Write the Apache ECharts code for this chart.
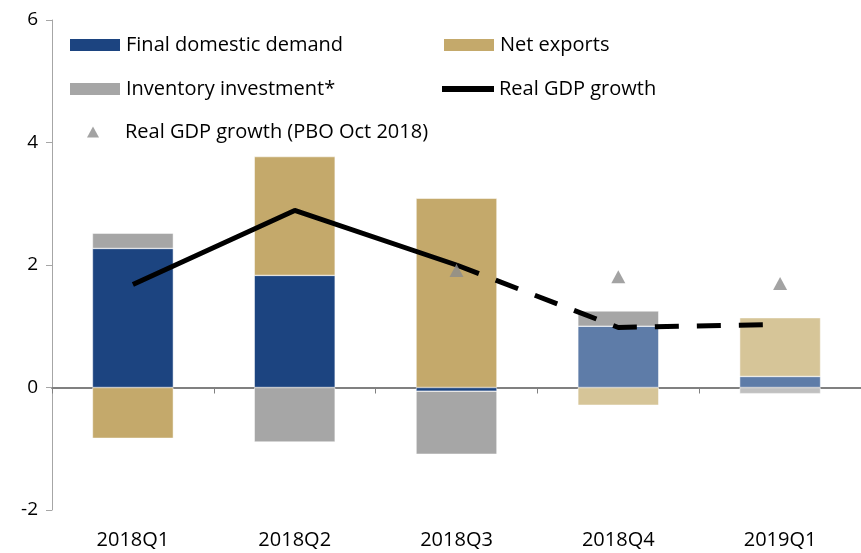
<!DOCTYPE html>
<html>
<head>
<meta charset="utf-8">
<script src="https://cdn.jsdelivr.net/npm/echarts@6/dist/echarts.min.js"></script>
<style>
  html, body { margin: 0; padding: 0; background: #fff; }
  #main { width: 861px; height: 553px; }
</style>
</head>
<body>
<div id="main"></div>
<script>
// quarters, values in percentage points
const quarters = ['2018Q1', '2018Q2', '2018Q3', '2018Q4', '2019Q1'];
const finalDomesticDemand = [2.27, 1.83, -0.06, 1.00, 0.18];
const netExports = [-0.83, 1.94, 3.09, -0.29, 0.96];
const inventoryInvestment = [0.25, -0.89, -1.03, 0.25, -0.10];
const gdpActual = [1.68, 2.89, 2.00, '-', '-'];
const gdpProjected = ['-', '-', 2.00, 0.98, 1.03];
const gdpPboOct2018 = ['-', '-', 1.91, 1.81, 1.70];
const yTicks = [-2, 0, 2, 4, 6];

const firstProjected = 3; // 2018Q4 onward drawn lighter

function shade(values, dark, light) {
  return values.map((v, i) => ({
    value: v,
    itemStyle: { color: i >= firstProjected ? light : dark }
  }));
}

const font = '"Open Sans", "Noto Sans", sans-serif';

const chart = echarts.init(document.getElementById('main'));

function legendAt(name, left, top, extra) {
  return Object.assign({
    data: [name],
    left: left,
    top: top,
    padding: 0,
    itemWidth: 52,
    itemHeight: 14,
    itemGap: 0,
    selectedMode: false,
    icon: 'rect',
    textStyle: { fontFamily: font, fontSize: 20, color: '#000' }
  }, extra || {});
}

chart.setOption({
  animation: false,
  grid: { left: 52, right: 0, top: 20, bottom: 43 },
  legend: [
    legendAt('Final domestic demand', 68, 35),
    legendAt('Net exports', 442, 35),
    legendAt('Inventory investment*', 68, 79),
    legendAt('Real GDP growth', 442, 79, { itemHeight: 6 }),
    legendAt('Real GDP growth (PBO Oct 2018)', 87, 122, {
      itemWidth: 12, itemHeight: 11, icon: 'triangle',
      textStyle: { fontFamily: font, fontSize: 20, color: '#000', padding: [0, 0, 0, 21] }
    })
  ],
  xAxis: [{
    type: 'category',
    data: quarters,
    axisLine: { onZero: true, lineStyle: { color: '#808080', width: 2 } },
    axisTick: { show: true, length: 6, lineStyle: { color: '#808080', width: 1 } },
    axisLabel: { show: false }
  }, {
    type: 'category',
    data: quarters,
    position: 'bottom',
    axisLine: { show: false, onZero: false },
    axisTick: { show: false },
    axisLabel: { margin: 20, fontFamily: font, fontSize: 20, color: '#000' }
  }],
  yAxis: {
    type: 'value',
    min: yTicks[0],
    max: yTicks[yTicks.length - 1],
    interval: 2,
    splitLine: { show: false },
    axisLine: { show: true, lineStyle: { color: '#A6A6A6', width: 1 } },
    axisTick: { show: true, length: 6, lineStyle: { color: '#A6A6A6' } },
    axisLabel: { margin: 14, fontFamily: font, fontSize: 19, color: '#000' }
  },
  series: [{
    name: 'Final domestic demand',
    type: 'bar',
    stack: 'gdp',
    barWidth: '50%',
    itemStyle: { color: '#1C4480', borderColor: '#fff', borderWidth: 0.5 },
    data: shade(finalDomesticDemand, '#1C4480', '#5E7CA8')
  }, {
    name: 'Net exports',
    type: 'bar',
    stack: 'gdp',
    itemStyle: { color: '#C4A96B', borderColor: '#fff', borderWidth: 0.5 },
    data: shade(netExports, '#C4A96B', '#D6C598')
  }, {
    name: 'Inventory investment*',
    type: 'bar',
    stack: 'gdp',
    itemStyle: { color: '#A6A6A6', borderColor: '#fff', borderWidth: 0.5 },
    data: inventoryInvestment.map((v, i) => ({
      value: v,
      itemStyle: { color: i === 4 ? '#C0C0C0' : '#A6A6A6' }
    }))
  }, {
    name: 'Real GDP growth',
    type: 'line',
    data: gdpActual,
    symbol: 'none',
    itemStyle: { color: '#000' },
    lineStyle: { color: '#000', width: 5 },
    z: 5
  }, {
    name: 'Real GDP growth projected',
    type: 'line',
    data: gdpProjected,
    symbol: 'none',
    itemStyle: { color: '#000' },
    lineStyle: { color: '#000', width: 5, type: [24, 18] },
    z: 5
  }, {
    name: 'Real GDP growth (PBO Oct 2018)',
    type: 'scatter',
    data: gdpPboOct2018,
    symbol: 'triangle',
    symbolSize: [14, 13],
    itemStyle: { color: '#8C8C8C' },
    z: 6
  }]
});
</script>
</body>
</html>
